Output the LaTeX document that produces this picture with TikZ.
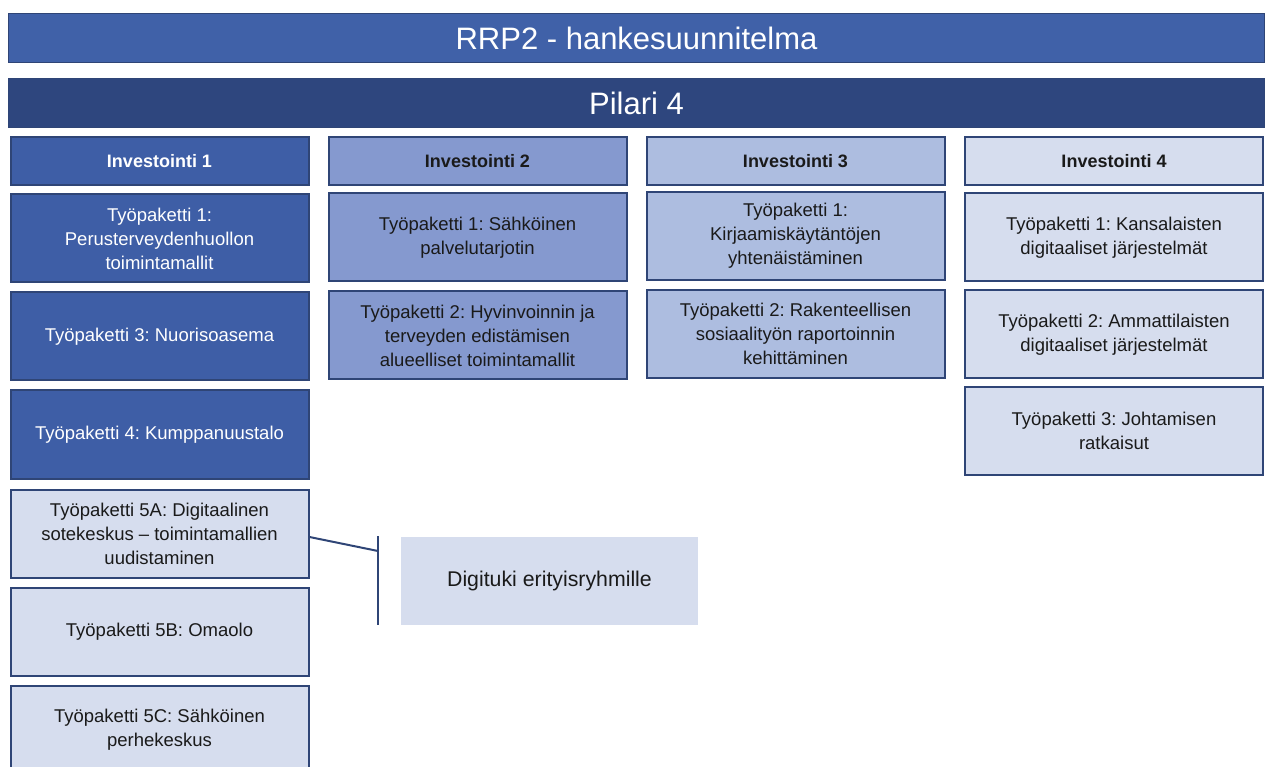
\documentclass[tikz,border=0pt]{standalone}
\usepackage{fontspec}
\setmainfont{Liberation Sans}
\frenchspacing
\definecolor{titleblue}{HTML}{4061A8}
\definecolor{pilarblue}{HTML}{2E467E}
\definecolor{inv1blue}{HTML}{3E5EA6}
\definecolor{inv2blue}{HTML}{8599CF}
\definecolor{inv3blue}{HTML}{ADBDE0}
\definecolor{inv4blue}{HTML}{D6DDEE}
\definecolor{edgeblue}{HTML}{2F4576}
\definecolor{txt}{HTML}{1A1A1A}
\tikzset{
  bar/.style={draw=edgeblue, line width=1.2pt, minimum width=1256pt, minimum height=49pt, inner sep=0pt,
    text=white, font=\fontsize{31}{36}\selectfont},
  box/.style={draw=edgeblue, line width=2pt, minimum width=298pt, minimum height=88pt, inner sep=0pt,
    align=center, text=txt, font=\fontsize{18.5}{24}\selectfont},
  invbox/.style={box, minimum height=48pt, font=\bfseries\fontsize{18}{21}\selectfont},
  darkbox/.style={fill=inv1blue, text=white},
  c2/.style={fill=inv2blue},
  c3/.style={fill=inv3blue},
  c4/.style={fill=inv4blue},
  link/.style={draw=edgeblue, line width=2pt}
}
\begin{document}
\begin{tikzpicture}[x=1pt,y=-1pt]
\useasboundingbox (0,0) rectangle (1270,767);
\clip (0,0) rectangle (1270,767);
% headers
\node[bar, fill=titleblue] (title) at (636.5,38) {RRP2 - hankesuunnitelma};
\node[bar, fill=pilarblue] (pilari) at (636.5,103) {Pilari 4};
% column 1
\node[invbox, darkbox] (inv1) at (159.5,161.5) {Investointi 1};
\node[box, darkbox] (i1w1) at (159.5,238.5) {Työpaketti 1:\\Perusterveydenhuollon\\toimintamallit};
\node[box, darkbox] (i1w3) at (159.5,336.5) {Työpaketti 3: Nuorisoasema};
\node[box, darkbox] (i1w4) at (159.5,434.5) {Työpaketti 4: Kumppanuustalo};
\node[box, c4] (wp5a) at (159.5,533.5) {Työpaketti 5A: Digitaalinen\\sotekeskus – toimintamallien\\uudistaminen};
\node[box, c4] (wp5b) at (159.5,631.5) {Työpaketti 5B: Omaolo};
\node[box, c4] (wp5c) at (159.5,729.5) {Työpaketti 5C: Sähköinen\\perhekeskus};
% column 2
\node[invbox, c2] (inv2) at (477.5,161.5) {Investointi 2};
\node[box, c2] (i2w1) at (477.5,237.5) {Työpaketti 1: Sähköinen\\palvelutarjotin};
\node[box, c2] (i2w2) at (477.5,335.5) {Työpaketti 2: Hyvinvoinnin ja\\terveyden edistämisen\\alueelliset toimintamallit};
% column 3
\node[invbox, c3] (inv3) at (795.5,161.5) {Investointi 3};
\node[box, c3] (i3w1) at (795.5,236) {Työpaketti 1:\\Kirjaamiskäytäntöjen\\yhtenäistäminen};
\node[box, c3] (i3w2) at (795.5,334) {Työpaketti 2: Rakenteellisen\\sosiaalityön raportoinnin\\kehittäminen};
% column 4
\node[invbox, c4] (inv4) at (1114,161.5) {Investointi 4};
\node[box, c4] (i4w1) at (1114,237.5) {Työpaketti 1: Kansalaisten\\digitaaliset järjestelmät};
\node[box, c4] (i4w2) at (1114,334.5) {Työpaketti 2: Ammattilaisten\\digitaaliset järjestelmät};
\node[box, c4] (i4w3) at (1114,431) {Työpaketti 3: Johtamisen\\ratkaisut};
% digituki
\node[fill=inv4blue, minimum width=297pt, minimum height=88pt, inner sep=0pt, text=txt,
  font=\fontsize{21.3}{25}\selectfont] (digi) at (549.5,581) {Digituki erityisryhmille};
% bracket connector
\coordinate (bt) at (378,536);
\coordinate (bj) at (378,551);
\coordinate (bb) at (378,625);
\draw[link] (bt) -- (bb);
\draw[link] ([yshift=-3.5pt]wp5a.east) -- (bj);
\end{tikzpicture}
\end{document}
